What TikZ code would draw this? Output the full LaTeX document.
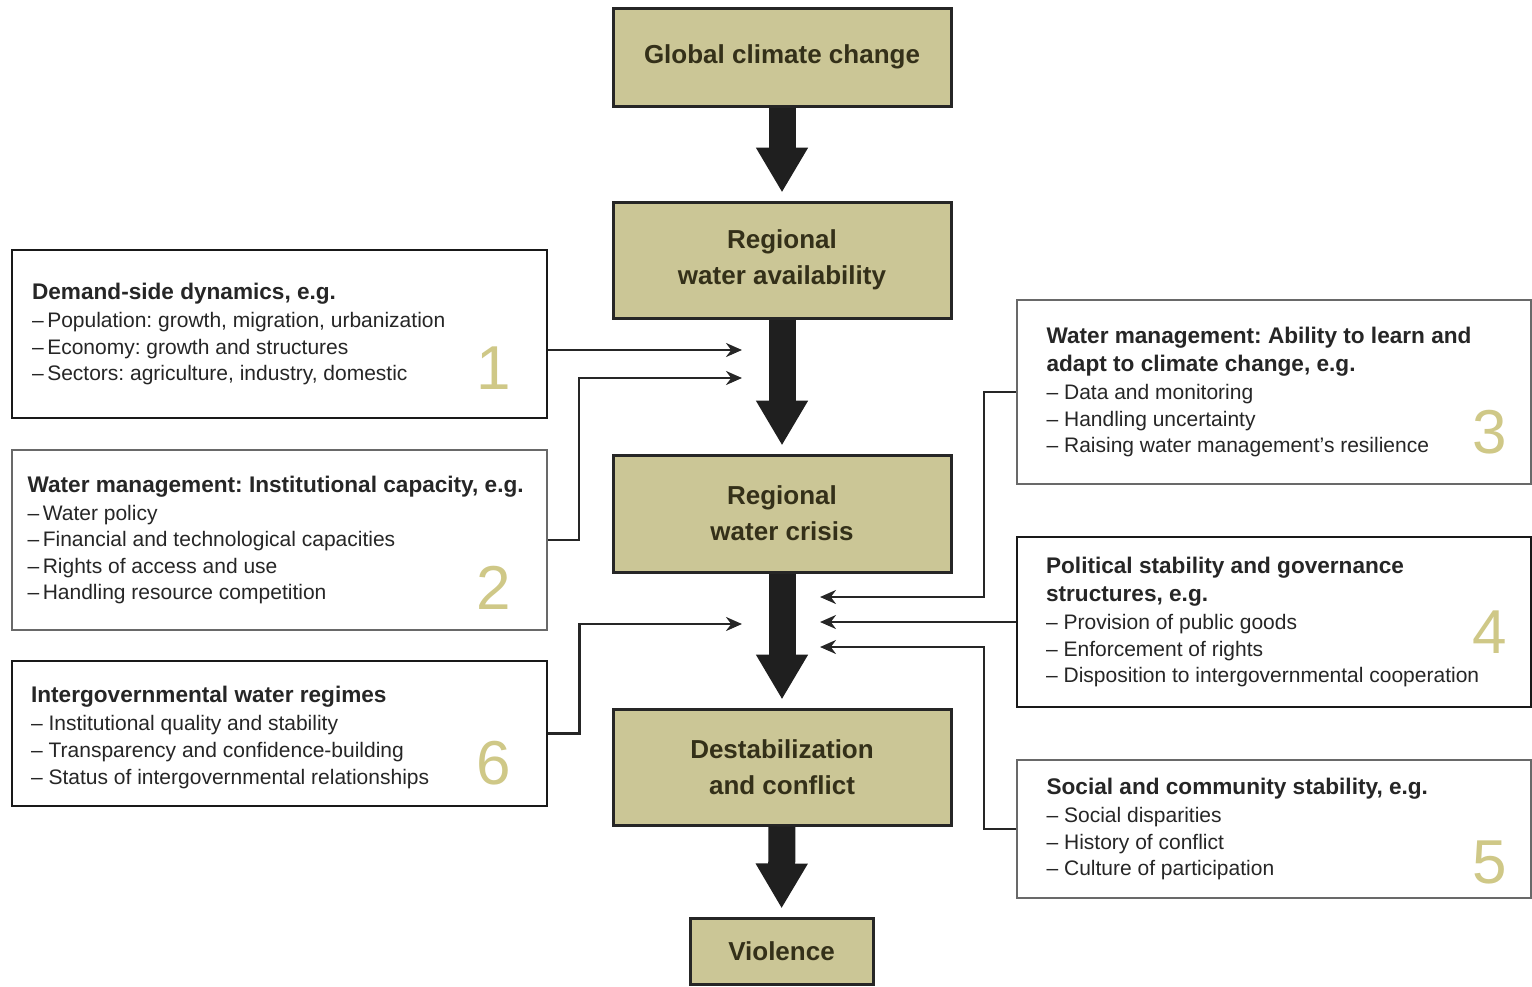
\documentclass[tikz,border=0pt]{standalone}
\usepackage{fontspec}
\setmainfont{Liberation Sans}
\usepackage{xcolor}
\usetikzlibrary{positioning,calc,arrows.meta}
\frenchspacing

\definecolor{khaki}{RGB}{203,198,150}
\definecolor{olivetext}{RGB}{52,48,25}
\definecolor{numcol}{RGB}{207,200,135}
\definecolor{thingray}{RGB}{105,105,105}

\newcommand{\factortitle}[1]{{\bfseries\fontsize{11.3}{14}\selectfont #1}}

\tikzset{
  stage/.style={draw=black!85, line width=1.5pt, fill=khaki, text=olivetext,
    font=\fontsize{13}{18}\selectfont\bfseries, align=center, minimum width=169pt},
  factor/.style={draw=black!90, line width=1.3pt, fill=white, minimum width=267.5pt},
  factorthin/.style={factor, draw=thingray, line width=0.8pt},
  factortext/.style={inner sep=0pt, align=left, text=black!85,
    font=\fontsize{10.5}{13.3}\selectfont},
  num/.style={text=numcol, font=\fontsize{31}{31}\selectfont},
  bigarrow/.style={line width=13.5pt, black!88,
    -{Triangle[length=22.5pt,width=24.5pt]}, shorten >=4pt},
  link/.style={line width=1.2pt, black!85, -{Stealth[length=8pt,width=7pt]}}
}

\begin{document}
\begin{tikzpicture}[x=0.5pt, y=-0.5pt]
    \useasboundingbox (0,0) rectangle (1532,986);

    % Main chain
    \node[stage, minimum height=49pt] (global) at (782,57) {Global climate change};
    \node[stage, minimum height=58pt] (avail) at (782,260) {Regional\\water availability};
    \node[stage, minimum height=58.5pt] (crisis) at (782,513.5) {Regional\\water crisis};
    \node[stage, minimum height=58pt] (conflict) at (782,767) {Destabilization\\and conflict};
    \node[stage, minimum width=91.5pt, minimum height=33pt] (violence) at (781.5,951) {Violence};

    \draw[bigarrow] (global) -- (avail);
    \draw[bigarrow] (avail) -- (crisis);
    \draw[bigarrow] (crisis) -- (conflict);
    \draw[bigarrow] (conflict) -- (violence);

    % Left factors
    \node[factor, minimum height=84pt] (demand) at (279.5,334) {};
    \node[factortext, right=10.5pt of demand.west] (demandtext) {\factortitle{Demand-side dynamics, e.g.}\\[0.7pt]
      –\,Population: growth, migration, urbanization\\
      –\,Economy: growth and structures\\
      –\,Sectors: agriculture, industry, domestic};
    \node[num] (num1) at (494,368) {1};

    \node[factorthin, minimum height=90pt] (mgmt) at (279.5,540) {};
    \node[factortext, right=8pt of mgmt.west] (mgmttext) {\factortitle{Water management: Institutional capacity, e.g.}\\[0.7pt]
      –\,Water policy\\
      –\,Financial and technological capacities\\
      –\,Rights of access and use\\
      –\,Handling resource competition};
    \node[num] (num2) at (494,588) {2};

    \node[factor, minimum height=72.5pt] (regimes) at (279.5,733.5) {};
    \node[factortext, right=10pt of regimes.west, yshift=-2pt] (regimestext) {\factortitle{Intergovernmental water regimes}\\[0.7pt]
      – Institutional quality and stability\\
      – Transparency and confidence-building\\
      – Status of intergovernmental relationships};
    \node[num] (num6) at (494,763) {6};

    % Right factors
    \node[factorthin, minimum width=257pt, minimum height=92pt] (adapt) at (1274,392) {};
    \node[factortext, right=15pt of adapt.west] (adapttext) {\factortitle{Water management: Ability to learn and}\\[0.7pt]
      \factortitle{adapt to climate change, e.g.}\\[0.7pt]
      – Data and monitoring\\
      – Handling uncertainty\\
      – Raising water management's resilience};
    \node[num] (num3) at (1490,432) {3};

    \node[factor, minimum width=257pt, minimum height=85pt] (politics) at (1274,622) {};
    \node[factortext, right=15pt of politics.west] (politicstext) {\factortitle{Political stability and governance}\\[0.7pt]
      \factortitle{structures, e.g.}\\[0.7pt]
      – Provision of public goods\\
      – Enforcement of rights\\
      – Disposition to intergovernmental cooperation};
    \node[num] (num4) at (1490,632) {4};

    \node[factorthin, minimum width=257pt, minimum height=69pt] (social) at (1274,829) {};
    \node[factortext, right=15pt of social.west] (socialtext) {\factortitle{Social and community stability, e.g.}\\[0.7pt]
      – Social disparities\\
      – History of conflict\\
      – Culture of participation};
    \node[num] (num5) at (1490,862) {5};

    % Influence links
    \coordinate (in1) at (742,350);
    \coordinate (in2) at (742,378);
    \coordinate (in6) at (742,624);
    \coordinate (in3) at (820,597);
    \coordinate (in4) at (820,622);
    \coordinate (in5) at (820,647);

    \draw[link] (demand.east |- in1) -- (in1);
    \draw[link] (mgmt.east) -- ++(31,0) |- (in2);
    \draw[link] (regimes.east) -- ++(31,0) |- (in6);
    \draw[link] (adapt.west) -- ++(-32,0) |- (in3);
    \draw[link] (politics.west) -- (in4);
    \draw[link] (social.west) -- ++(-32,0) |- (in5);
\end{tikzpicture}
\end{document}
